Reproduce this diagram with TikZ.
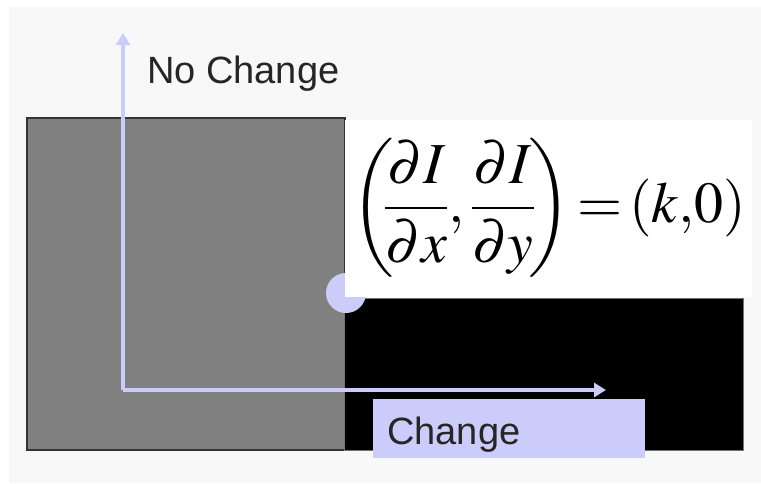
\documentclass[tikz,border=0pt]{standalone}
\usepackage{amsmath}
\usepackage{mathptmx}
\usepackage{fontspec}
\newfontfamily\labelfont{Liberation Sans}
\usepackage{tikz}
\usetikzlibrary{positioning,arrows.meta}
\definecolor{pagebg}{HTML}{F8F8F8}
\definecolor{lavender}{HTML}{CCCCFA}
\definecolor{midgray}{HTML}{808080}

\tikzset{
    axisline/.style={draw=lavender, line width=4pt, -{Triangle[width=14pt,length=12pt]}},
    txtlabel/.style={inner sep=0pt, font=\labelfont\fontsize{38}{44}\selectfont, text=black!85},
}

\begin{document}
\begin{tikzpicture}[x=1pt,y=-1pt]
    \useasboundingbox (0,0) rectangle (761,483);
    \fill[pagebg] (9,7) rectangle (761,483);
    % the two regions
    \filldraw[fill=midgray, draw=black!80, line width=1.2pt] (27,118) rectangle (345,450);
    \filldraw[fill=black, draw=black!55, line width=1pt] (344,298) rectangle (743,450);
    % corner point, partly hidden by the formula box
    \fill[lavender] (346,293) circle (20);
    \fill[white] (345,120) rectangle (752,297);
    \node[anchor=west, inner sep=0pt] (grad) at (351,208)
        {\fontsize{58}{68}\selectfont $\displaystyle\left(\mskip-3mu\frac{\partial I}{\partial x},\frac{\partial I}{\partial y}\mskip-2mu\right)\mskip-2mu\mathrel{=}\mskip-2mu(k{,}0)$};
    % axes
    \coordinate (origin) at (123,390);
    \coordinate (uptip) at (123,33);
    \coordinate (righttip) at (606,390);
    \draw[axisline] (origin) -- (uptip);
    \draw[axisline] (origin) -- (righttip);
    \node[txtlabel, anchor=base west] (nochange) at (147,83) {No Change};
    \fill[lavender] (373,399) rectangle (645,458);
    \node[txtlabel, anchor=base west] (change) at (387,444) {Change};
\end{tikzpicture}
\end{document}
